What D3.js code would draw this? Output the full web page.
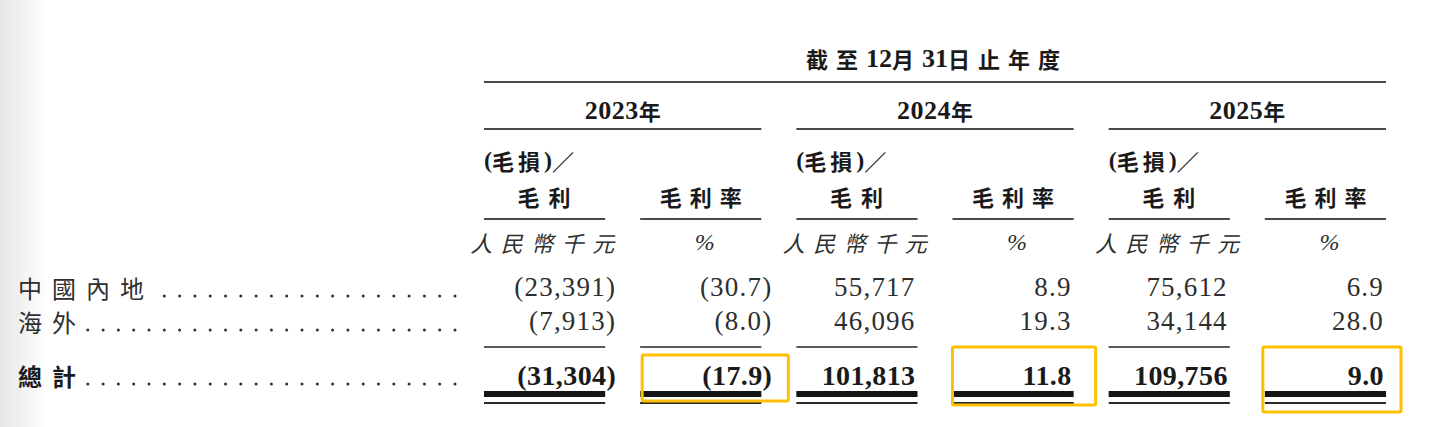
<!DOCTYPE html>
<html>
<head>
<meta charset="utf-8">
<script src="https://cdn.jsdelivr.net/npm/d3@7"></script>
<style>
  html, body { margin: 0; padding: 0; background: #fff; }
  svg { display: block; }
</style>
</head>
<body>
<svg id="chart" width="1437" height="427"></svg>
<script>
// ---------------- data ----------------
const headerTitle = "截至12月31日止年度";
const years = ["2023年", "2024年", "2025年"];
const regions = ["中國內地", "海外"];
const totalLabel = "總計";
const gpHeaderTop = "(毛損)／";
const gpHeader = "毛利";
const marginHeader = "毛利率";
const gpUnit = "人民幣千元";
const marginUnit = "%";
// gross profit (RMB'000) by year, per region
const grossProfit = [[-23391, -7913], [55717, 46096], [75612, 34144]];
const grossProfitTotal = [-31304, 101813, 109756];
// gross margin (%) by year, per region
const grossMargin = [[-30.7, -8.0], [8.9, 19.3], [6.9, 28.0]];
const grossMarginTotal = [-17.9, 11.8, 9.0];

// ---------------- layout ----------------
const W = 1437, H = 427;
const CJK = "'Noto Sans CJK TC', 'Noto Sans CJK SC', sans-serif";
const SERIF = "'Liberation Serif', 'DejaVu Serif', serif";
const ink = "#1a1a1a", inkSoft = "#2e2e2e", rule = "#4a4a4a", gold = "#FFC000";

const svg = d3.select("#chart");

// faint page shadow on the left edge
const defs = svg.append("defs");
const grad = defs.append("linearGradient").attr("id", "edge").attr("x1", 0).attr("x2", 1);
grad.append("stop").attr("offset", 0).attr("stop-color", "#e6e6e6");
grad.append("stop").attr("offset", 1).attr("stop-color", "#ffffff");
svg.append("rect").attr("x", 0).attr("y", 0).attr("width", 48).attr("height", H).attr("fill", "url(#edge)");

const col = d3.scaleBand().domain(d3.range(6)).range([484, 1386]).paddingInner(0.224).paddingOuter(0);
const L = i => col(i), R = i => col(i) + col.bandwidth(), C = i => col(i) + col.bandwidth() / 2;

const yPos = { title: 58, topRule: 82, year: 110, yearRule: 129, h1: 160, h2: 196, hRule: 219, unit: 242,
               rows: [287, 321], subRule: 347, total: 375, thick: 394, thin: 403 };

// mixed CJK / latin text
function rich(g, str, o) {
  const t = g.append("text")
    .attr("x", o.x).attr("y", o.y)
    .attr("text-anchor", o.anchor || "start")
    .attr("dominant-baseline", "central")
    .attr("fill", o.fill || ink)
    .attr("font-weight", o.bold ? 700 : 400)
    .attr("font-style", o.italic ? "italic" : "normal");
  const parts = str.split(/([\u3000-\u9fff\uff00-\uffef]+)/).filter(s => s.length);
  parts.forEach(p => {
    const isC = /[\u3000-\u9fff\uff00-\uffef]/.test(p);
    t.append("tspan")
      .attr("font-family", isC ? CJK : SERIF)
      .attr("font-size", isC ? o.cjkSize : o.latSize)
      .attr("letter-spacing", isC ? o.cjkSp : (o.latSp || 0))
      .text(p);
  });
  return t;
}

function hline(x1, x2, y, w, c) {
  svg.append("line").attr("x1", x1).attr("x2", x2).attr("y1", y).attr("y2", y)
    .attr("stroke", c || rule).attr("stroke-width", w || 2);
}

// title
rich(svg, headerTitle, { x: (L(0) + R(5)) / 2 + 2, y: yPos.title, anchor: "middle", bold: true, cjkSize: 22, latSize: 26, cjkSp: 8, latSp: 0 });
hline(L(0), R(5), yPos.topRule, 2.2);

// years
years.forEach((yr, i) => {
  rich(svg, yr, { x: (L(2 * i) + R(2 * i + 1)) / 2, y: yPos.year, anchor: "middle", bold: true, cjkSize: 22, latSize: 26, cjkSp: 0, latSp: 0.5 });
  hline(L(2 * i), R(2 * i + 1), yPos.yearRule, 2.2);
});

// column headers
d3.range(6).forEach(c => {
  const isGP = c % 2 === 0;
  if (isGP) {
    rich(svg, gpHeaderTop, { x: L(c), y: yPos.h1, bold: true, cjkSize: 22, latSize: 24, cjkSp: 4 });
    rich(svg, gpHeader, { x: C(c) + 4, y: yPos.h2, anchor: "middle", bold: true, cjkSize: 22, latSize: 24, cjkSp: 9 });
  } else {
    rich(svg, marginHeader, { x: C(c) + 4, y: yPos.h2, anchor: "middle", bold: true, cjkSize: 22, latSize: 24, cjkSp: 8 });
  }
  hline(L(c), R(c), yPos.hRule, 2.2);
  rich(svg, isGP ? gpUnit : marginUnit, { x: C(c) + (isGP ? 2 : 4), y: yPos.unit, anchor: "middle", italic: true, fill: inkSoft,
    cjkSize: 22, latSize: 24, cjkSp: 8.5 });
});

// number formatting
const fmtInt = d3.format(",");
const fmtPct = d3.format(".1f");
function numText(v, isPct) {
  const s = isPct ? fmtPct(Math.abs(v)) : fmtInt(Math.abs(v));
  return v < 0 ? "(" + s + ")" : s;
}
function drawNum(v, c, y, isPct, bold) {
  const neg = v < 0;
  svg.append("text")
    .attr("x", R(c) + (neg ? 11 : -2))
    .attr("y", y)
    .attr("text-anchor", "end")
    .attr("dominant-baseline", "central")
    .attr("font-family", SERIF)
    .attr("font-size", bold ? 28 : 27)
    .attr("font-weight", bold ? 700 : 400)
    .attr("letter-spacing", bold ? 0.4 : 1.2)
    .attr("fill", bold ? ink : inkSoft)
    .text(numText(v, isPct));
}

years.forEach((yr, i) => {
  regions.forEach((rg, r) => {
    drawNum(grossProfit[i][r], 2 * i, yPos.rows[r], false, false);
    drawNum(grossMargin[i][r], 2 * i + 1, yPos.rows[r], true, false);
  });
  drawNum(grossProfitTotal[i], 2 * i, yPos.total, false, true);
  drawNum(grossMarginTotal[i], 2 * i + 1, yPos.total, true, true);
});

// sub-total rules and double total rules
d3.range(6).forEach(c => {
  hline(L(c), R(c), yPos.subRule, 2.2, "#5a5a5a");
  hline(L(c), R(c), yPos.thick, 6, "#151515");
  hline(L(c), R(c), yPos.thin, 2, "#2a2a2a");
});

// row labels with dot leaders
const labels = regions.concat([totalLabel]);
const labelY = yPos.rows.concat([yPos.total]);
const dotEnd = 455, dotStep = 15.3;
labels.forEach((lb, k) => {
  const bold = k === labels.length - 1;
  const t = rich(svg, lb, { x: 18, y: labelY[k], bold: bold, fill: bold ? ink : inkSoft, cjkSize: 24, latSize: 24, cjkSp: 10 });
  const w = t.node().getComputedTextLength();
  const start = 18 + w - 4;
  const xs = [];
  for (let x = dotEnd; x > start; x -= dotStep) xs.push(x);
  svg.selectAll(null).data(xs).enter().append("circle")
    .attr("cx", d => d).attr("cy", labelY[k] + 9).attr("r", 1.5).attr("fill", "#333");
});

// highlight boxes around total gross margins
const hlPad = [{ l: 2, r: 27, t: 355, b: 401 }, { l: 0, r: 22, t: 347, b: 405 }, { l: -2, r: 15, t: 347, b: 412 }];
grossMarginTotal.forEach((v, i) => {
  const c = 2 * i + 1, p = hlPad[i];
  svg.append("rect")
    .attr("x", L(c) + p.l).attr("y", p.t)
    .attr("width", R(c) + p.r - (L(c) + p.l)).attr("height", p.b - p.t)
    .attr("fill", "none").attr("stroke", gold).attr("stroke-width", 3).attr("rx", 1.5);
});
</script>
</body>
</html>
